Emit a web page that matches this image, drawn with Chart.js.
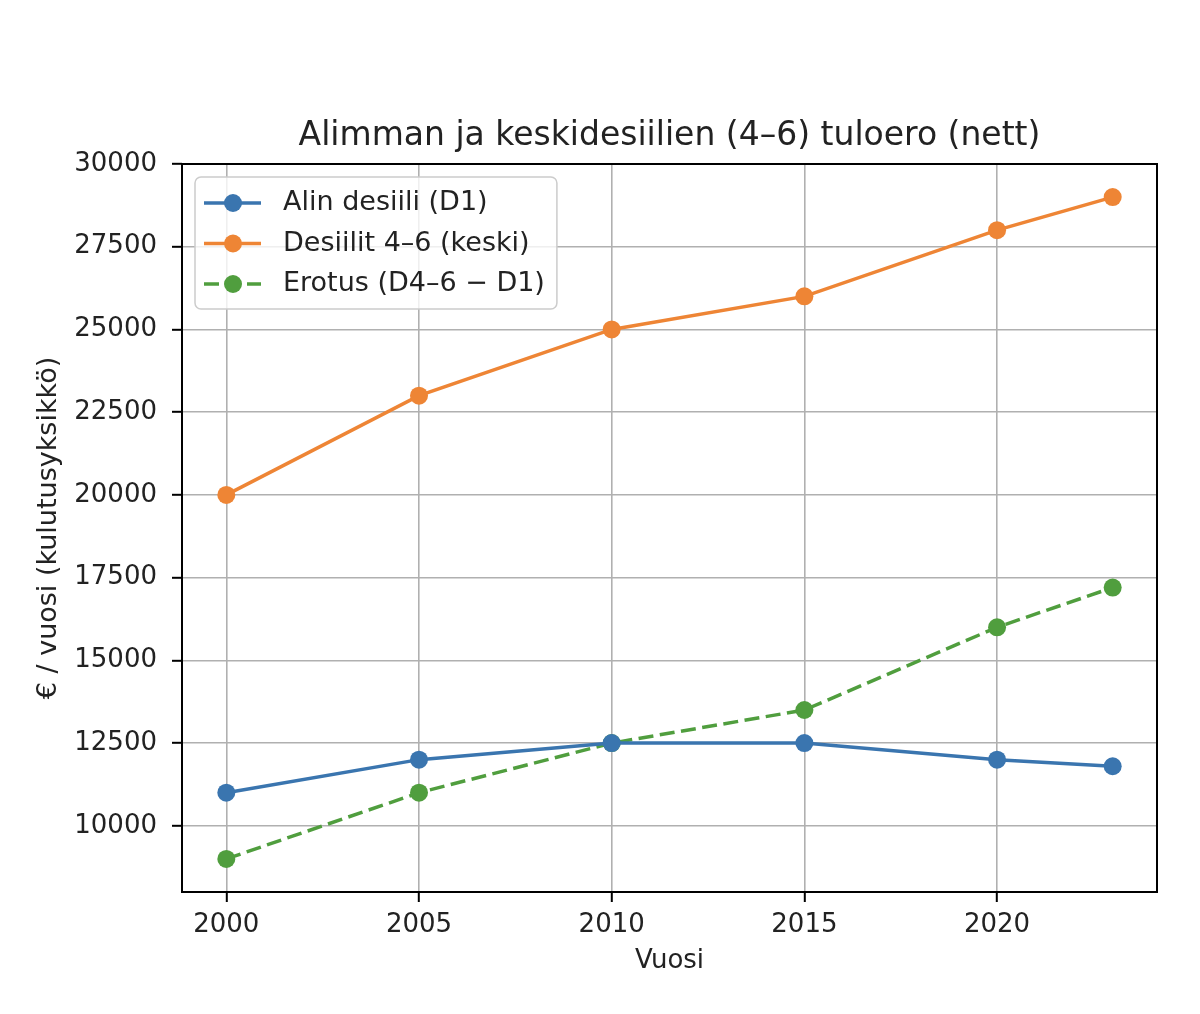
<!DOCTYPE html>
<html>
<head>
<meta charset="utf-8">
<script src="https://cdn.jsdelivr.net/npm/chart.js@4.4.1/dist/chart.umd.min.js"></script>
<style>
  html, body { margin: 0; padding: 0; background: #fff; }
  #wrap { width: 1200px; height: 1014px; }
</style>
</head>
<body>
<div id="wrap"><canvas id="myChart" width="1200" height="1014"></canvas></div>
<script>
// Values
const years = [2000, 2005, 2010, 2015, 2020, 2023];
const alinD1 = [11000, 12000, 12500, 12500, 12000, 11800];
const keskiD46 = [20000, 23000, 25000, 26000, 28000, 29000];
const erotus = [9000, 11000, 12500, 13500, 16000, 17200];

const seriesLabels = ['Alin desiili (D1)', 'Desiilit 4–6 (keski)', 'Erotus (D4–6 − D1)'];
const seriesColors = ['#3a75af', '#ee8535', '#509e3e'];

const xTicks = [2000, 2005, 2010, 2015, 2020];
const yTicks = [10000, 12500, 15000, 17500, 20000, 22500, 25000, 27500, 30000];

const chartTitle = 'Alimman ja keskidesiilien (4–6) tuloero (nett)';
const xTitle = 'Vuosi';
const yTitle = '€ / vuosi (kulutusyksikkö)';

const FONT = '"DejaVu Sans", sans-serif';
const TEXT = '#222';

const toPoints = vals => years.map((y, i) => ({ x: y, y: vals[i] }));

// marco negro alrededor del área
const frame = {
  id: 'frame',
  afterDatasetsDraw(chart) {
    const { ctx, chartArea: a } = chart;
    ctx.save();
    ctx.strokeStyle = '#000';
    ctx.lineWidth = 2;
    ctx.strokeRect(a.left, a.top, a.right - a.left, a.bottom - a.top);
    ctx.restore();
  }
};

// título centrado sobre el área del gráfico
const centeredTitle = {
  id: 'centeredTitle',
  afterDraw(chart) {
    const { ctx, chartArea: a } = chart;
    ctx.save();
    ctx.font = '33px ' + FONT;
    ctx.fillStyle = TEXT;
    ctx.textAlign = 'center';
    ctx.textBaseline = 'middle';
    ctx.fillText(chartTitle, (a.left + a.right) / 2, 136);
    ctx.restore();
  }
};

// leyenda dentro del gráfico, arriba a la izquierda
const legendInside = {
  id: 'legendInside',
  afterDraw(chart) {
    const { ctx, chartArea: a } = chart;
    const left = a.left + 13, top = a.top + 13;
    ctx.save();
    ctx.font = '27px ' + FONT;
    const textW = Math.max(...chart.data.datasets.map(d => ctx.measureText(d.label).width));
    const w = 88 + textW + 12, h = 132;
    ctx.beginPath();
    ctx.roundRect(left, top, w, h, 6);
    ctx.fillStyle = 'rgba(255,255,255,0.8)';
    ctx.fill();
    ctx.strokeStyle = '#cccccc';
    ctx.lineWidth = 1.5;
    ctx.stroke();
    chart.data.datasets.forEach((ds, i) => {
      const y = top + 26 + i * 40.5;
      ctx.strokeStyle = ds.borderColor;
      ctx.lineWidth = ds.borderWidth;
      ctx.setLineDash(ds.borderDash || []);
      ctx.beginPath();
      ctx.moveTo(left + 9, y);
      ctx.lineTo(left + 66, y);
      ctx.stroke();
      ctx.setLineDash([]);
      ctx.fillStyle = ds.borderColor;
      ctx.beginPath();
      ctx.arc(left + 38, y, ds.pointRadius, 0, Math.PI * 2);
      ctx.fill();
      ctx.fillStyle = TEXT;
      ctx.textAlign = 'left';
      ctx.textBaseline = 'middle';
      ctx.fillText(ds.label, left + 88, y);
    });
    ctx.restore();
  }
};

const seriesData = [alinD1, keskiD46, erotus];

const ctx = document.getElementById('myChart').getContext('2d');
const myChart = new Chart(ctx, {
  type: 'line',
  data: {
    datasets: seriesData.map((vals, i) => ({
      label: seriesLabels[i],
      data: toPoints(vals),
      borderColor: seriesColors[i],
      backgroundColor: seriesColors[i],
      pointBackgroundColor: seriesColors[i],
      borderWidth: 3.5,
      borderDash: i === 2 ? [15, 6.5] : [],
      pointRadius: 9,
      pointHoverRadius: 9,
      pointBorderWidth: 0,
      tension: 0,
      fill: false
    }))
  },
  options: {
    responsive: false,
    devicePixelRatio: 1,
    animation: false,
    layout: { padding: { left: 20, top: 164, right: 43, bottom: 0 } },
    plugins: {
      legend: { display: false },
      title: { display: false },
      tooltip: { enabled: false }
    },
    scales: {
      x: {
        type: 'linear',
        min: 1998.85,
        max: 2024.15,
        afterBuildTicks: s => { s.ticks = xTicks.map(v => ({ value: v })); },
        afterFit: s => { s.height = 122; },
        grid: { color: '#b0b0b0', lineWidth: 1.6, tickColor: '#000', tickLength: 10, tickWidth: 2 },
        border: { display: false },
        ticks: {
          autoSkip: false, maxRotation: 0, padding: 8,
          color: TEXT, font: { family: FONT, size: 26 },
          callback: v => String(v)
        },
        title: {
          display: true, text: xTitle, color: TEXT,
          font: { family: FONT, size: 26 },
          padding: { top: 0, bottom: 37 }
        }
      },
      y: {
        type: 'linear',
        min: 8000,
        max: 30000,
        afterBuildTicks: s => { s.ticks = yTicks.map(v => ({ value: v })); },
        afterFit: s => { s.width = 162; },
        grid: { color: '#b0b0b0', lineWidth: 1.6, tickColor: '#000', tickLength: 10, tickWidth: 2 },
        border: { display: false },
        ticks: {
          autoSkip: false, padding: 15,
          color: TEXT, font: { family: FONT, size: 26 },
          callback: v => String(v)
        },
        title: {
          display: true, text: yTitle, color: TEXT,
          font: { family: FONT, size: 27 },
          padding: { top: 13, bottom: 0 }
        }
      }
    }
  },
  plugins: [frame, centeredTitle, legendInside]
});
</script>
</body>
</html>
